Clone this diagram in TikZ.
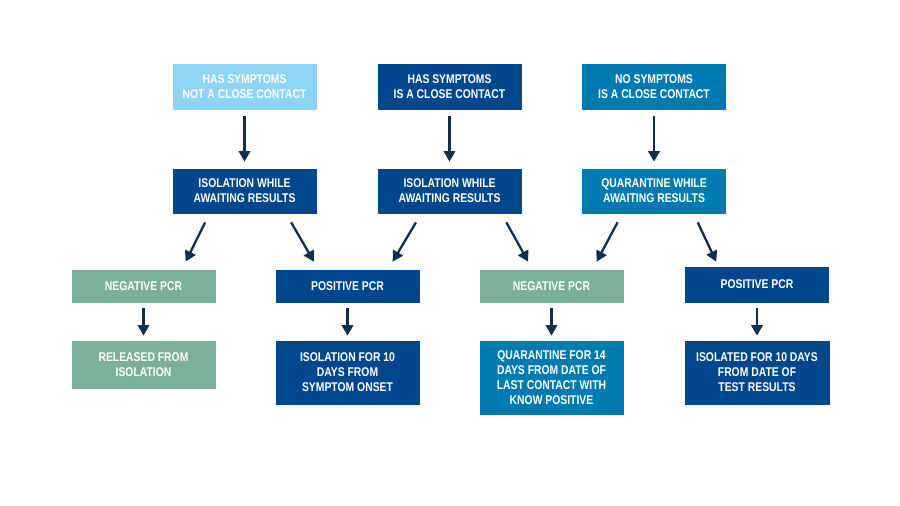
\documentclass[tikz,border=0pt]{standalone}
\usepackage{fontspec}
\setmainfont{Liberation Sans}[FakeStretch=0.82, UprightFont=*-Bold]
\usetikzlibrary{arrows.meta,calc}

\definecolor{skyblue}{HTML}{8DD4F5}
\definecolor{darkblue}{HTML}{00478D}
\definecolor{midblue}{HTML}{007BB2}
\definecolor{sage}{HTML}{7AB09A}
\definecolor{navy}{HTML}{0E2E52}

\begin{document}
\begin{tikzpicture}
	[
		x = 0.02cm, y = -0.02cm,
		box/.style = {shape=rectangle, draw=white, line width=0.4pt, text=white, align=center,
			inner sep=0pt, minimum width=2.9cm, font=\fontsize{7.2}{8.6}\selectfont},
		lbox/.style = {box, fill=skyblue},
		dbox/.style = {box, fill=darkblue},
		mbox/.style = {box, fill=midblue},
		gbox/.style = {box, fill=sage},
		arr/.style = {draw=navy, line width=1.3pt, -{Triangle[length=6pt, width=6.5pt]}}
	]
	
	\fill [white] (0, 0) rectangle (900, 506);
	
	\node [lbox, minimum height=0.94cm] (hsn) at (244.5, 86.5) {HAS SYMPTOMS\\NOT A CLOSE CONTACT};
	\node [dbox, minimum height=0.94cm] (hsc) at (449.5, 86.5) {HAS SYMPTOMS\\IS A CLOSE CONTACT};
	\node [mbox, minimum height=0.94cm] (nsc) at (654, 86.5) {NO SYMPTOMS\\IS A CLOSE CONTACT};
	
	\node [dbox, minimum height=0.92cm] (iso1) at (244.5, 191) {ISOLATION WHILE\\AWAITING RESULTS};
	\node [dbox, minimum height=0.92cm] (iso2) at (449.5, 191) {ISOLATION WHILE\\AWAITING RESULTS};
	\node [mbox, minimum height=0.92cm] (quar) at (654, 191) {QUARANTINE WHILE\\AWAITING RESULTS};
	
	\node [gbox, minimum height=0.68cm] (neg1) at (143.5, 286) {NEGATIVE PCR};
	\node [dbox, minimum height=0.68cm] (pos1) at (347.5, 286) {POSITIVE PCR};
	\node [gbox, minimum height=0.68cm] (neg2) at (551.5, 286) {NEGATIVE PCR};
	\node [dbox, minimum height=0.74cm] (pos2) at (757, 284.5) {POSITIVE PCR};
	
	\node [gbox, minimum height=0.98cm] (rel) at (143.5, 364.5) {RELEASED FROM\\ISOLATION};
	\node [dbox, minimum height=1.3cm] (isoten) at (347.5, 372.5) {ISOLATION FOR 10\\DAYS FROM\\SYMPTOM ONSET};
	\node [mbox, minimum height=1.5cm] (quarfour) at (551.5, 377.5) {QUARANTINE FOR 14\\DAYS FROM DATE OF\\LAST CONTACT WITH\\KNOW POSITIVE};
	\node [dbox, minimum height=1.3cm, minimum width=2.92cm] (isolated) at (757, 372.5) {ISOLATED FOR 10 DAYS\\FROM DATE OF\\TEST RESULTS};
	
	\foreach \a/\b in {hsn/iso1, hsc/iso2, nsc/quar}
		{ \draw [arr, shorten <=0.12cm, shorten >=0.12cm] (\a) -- (\b); }
	
	\foreach \a/\b in {neg1/rel, pos1/isoten, neg2/quarfour, pos2/isolated}
		{ \draw [arr, shorten <=0.1cm, shorten >=0.08cm] (\a.south) -- (\b.north); }
	
	\draw [arr] ($(iso1.south west)!.23!(iso1.south east) + (0, 8)$) -- ($(neg1.north west)!.79!(neg1.north east) + (0, -7)$);
	\draw [arr] ($(iso1.south west)!.82!(iso1.south east) + (0, 8)$) -- ($(pos1.north west)!.27!(pos1.north east) + (0, -7)$);
	\draw [arr] ($(iso2.south west)!.27!(iso2.south east) + (0, 8)$) -- ($(pos1.north west)!.81!(pos1.north east) + (0, -7)$);
	\draw [arr] ($(iso2.south west)!.89!(iso2.south east) + (0, 8)$) -- ($(neg2.north west)!.34!(neg2.north east) + (0, -7)$);
	\draw [arr] ($(quar.south west)!.25!(quar.south east) + (0, 8)$) -- ($(neg2.north west)!.81!(neg2.north east) + (0, -7)$);
	\draw [arr] ($(quar.south west)!.80!(quar.south east) + (0, 8)$) -- ($(pos2.north west)!.22!(pos2.north east) + (0, -4)$);
\end{tikzpicture}
\end{document}
